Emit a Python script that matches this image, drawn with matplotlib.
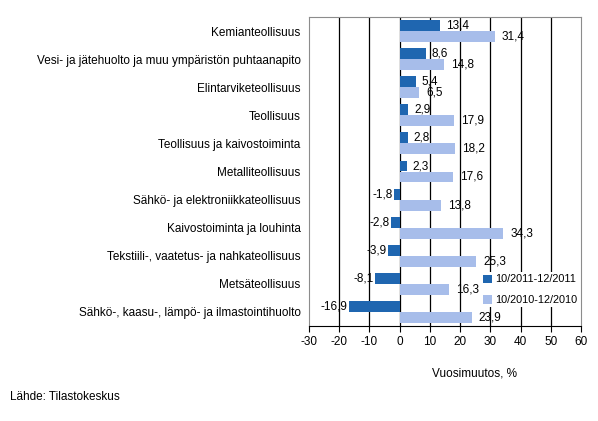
import matplotlib
matplotlib.use("Agg")
import matplotlib.pyplot as plt
import numpy as np

categories = [
    "Kemianteollisuus",
    "Vesi- ja jätehuolto ja muu ympäristön puhtaanapito",
    "Elintarviketeollisuus",
    "Teollisuus",
    "Teollisuus ja kaivostoiminta",
    "Metalliteollisuus",
    "Sähkö- ja elektroniikkateollisuus",
    "Kaivostoiminta ja louhinta",
    "Tekstiili-, vaatetus- ja nahkateollisuus",
    "Metsäteollisuus",
    "Sähkö-, kaasu-, lämpö- ja ilmastointihuolto",
]
series_2011 = [13.4, 8.6, 5.4, 2.9, 2.8, 2.3, -1.8, -2.8, -3.9, -8.1, -16.9]
series_2010 = [31.4, 14.8, 6.5, 17.9, 18.2, 17.6, 13.8, 34.3, 25.3, 16.3, 23.9]
labels = ["10/2011-12/2011", "10/2010-12/2010"]
xticks = [-30, -20, -10, 0, 10, 20, 30, 40, 50, 60]

plt.rcParams['font.family'] = ['Liberation Sans', 'DejaVu Sans']
fs = 8.5

fig = plt.figure(figsize=(5.98, 4.21), dpi=100)
ax = fig.add_axes([309/598, 1 - 326/421, (581 - 309)/598, (326 - 17)/421])

n = len(categories)
y = np.arange(n)
h = 0.39
c1 = "#1F66B0"
c2 = "#A7BDEA"

for xv in xticks[1:-1]:
    ax.axvline(xv, color="black", lw=0.9, zorder=0)

ax.barh(y - h/2, series_2011, height=h, color=c1, label=labels[0], zorder=2)
ax.barh(y + h/2, series_2010, height=h, color=c2, label=labels[1], zorder=2)

def fmt(v):
    return f"{v:.1f}".replace(".", ",")

for yy, v in zip(y - h/2, series_2011):
    ax.annotate(fmt(v), (v, yy), xytext=(4 if v >= 0 else -1, 0), textcoords="offset points",
                ha="left" if v >= 0 else "right", va="center", fontsize=fs, zorder=3)
for yy, v in zip(y + h/2, series_2010):
    ax.annotate(fmt(v), (v, yy), xytext=(5, 0), textcoords="offset points",
                ha="left", va="center", fontsize=fs, zorder=3)

ax.set_xlim(-30, 60)
ax.set_ylim(n - 0.5, -0.5)
ax.set_xticks(xticks)
ax.set_xticklabels([str(t) for t in xticks], fontsize=fs)
ax.set_yticks(y)
ax.set_yticklabels(categories, fontsize=fs)
ax.tick_params(axis="y", length=0, pad=6)
ax.tick_params(axis="x", length=4, direction="out", pad=3, color="black")
for s in ["top", "right", "left"]:
    ax.spines[s].set_color("#8c8c8c")
ax.spines["bottom"].set_color("black")

leg = ax.legend(loc="lower right", bbox_to_anchor=(0.995, 0.06), frameon=True, fontsize=7.8,
                handlelength=0.8, handleheight=0.8, handletextpad=0.3, labelspacing=1.0,
                borderpad=0.2, borderaxespad=0)
leg.get_frame().set_edgecolor("none")
leg.get_frame().set_facecolor("white")
leg.get_frame().set_alpha(1)

fig.text(474/598, 1 - 374/421, "Vuosimuutos, %", fontsize=fs, ha="center", va="center")
fig.text(10/598, 1 - 397/421, "Lähde: Tilastokeskus", fontsize=fs, ha="left", va="center")

fig.savefig("out.png", dpi=100)
